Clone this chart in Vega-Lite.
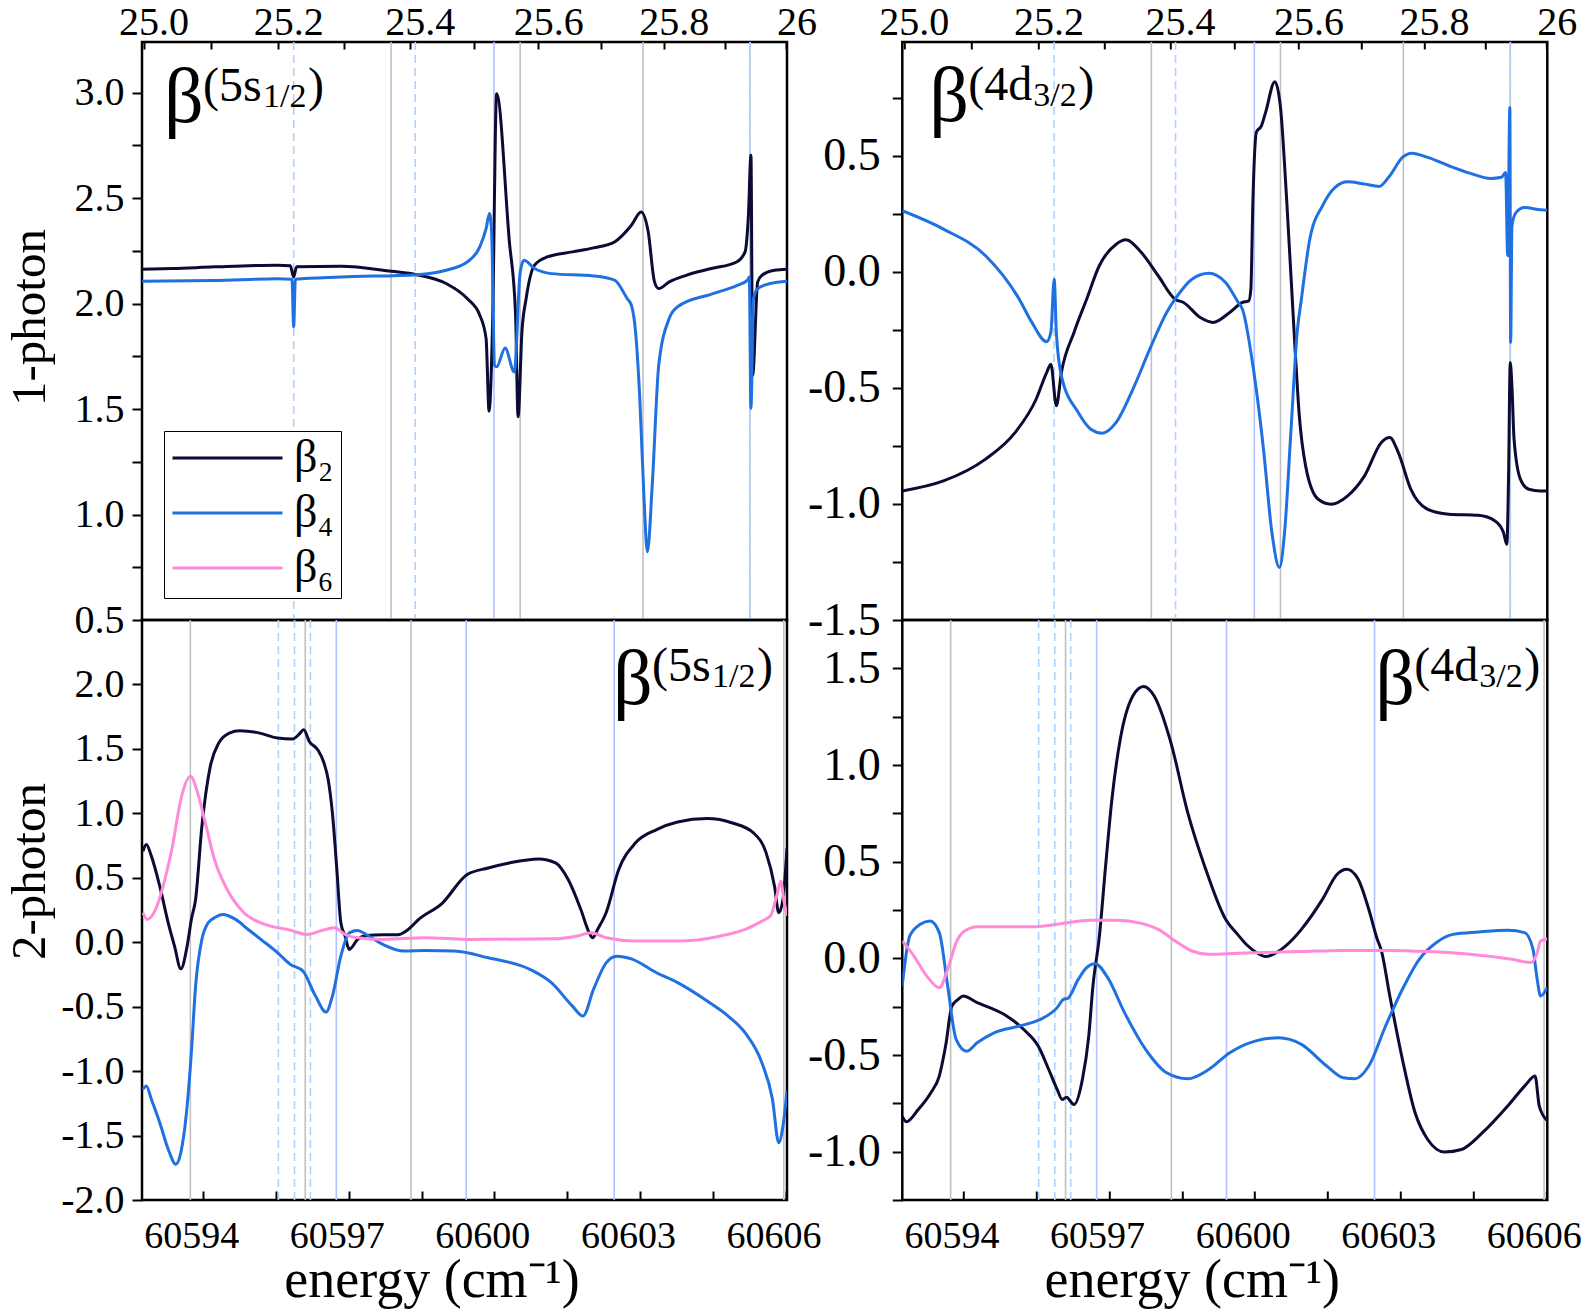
{
  "$schema": "https://vega.github.io/schema/vega-lite/v6.json",
  "background": "white",
  "padding": {"left": 3, "top": 0, "right": 5, "bottom": 0},
  "columns": 2,
  "spacing": {"row": 0, "column": 115.3},
  "bounds": "flush",
  "resolve": {"legend": {"color": "independent"}},
  "datasets": {
    "vtop": [
      {"energy": 60597.872, "kind": "gray"}, {"energy": 60600.532, "kind": "gray"}, {"energy": 60603.064, "kind": "gray"}, {"energy": 60605.265, "kind": "gray"},
      {"energy": 60599.993, "kind": "blue"},
      {"energy": 60595.867, "kind": "dashed"}, {"energy": 60598.37, "kind": "dashed"}, {"energy": 60605.27, "kind": "dashed"}
    ],
    "vbot": [
      {"energy": 60593.736, "kind": "gray"}, {"energy": 60596.104, "kind": "gray"}, {"energy": 60598.284, "kind": "gray"}, {"energy": 60605.964, "kind": "gray"},
      {"energy": 60596.744, "kind": "blue"}, {"energy": 60599.42, "kind": "blue"}, {"energy": 60602.47, "kind": "blue"},
      {"energy": 60595.55, "kind": "dashed"}, {"energy": 60595.882, "kind": "dashed"}, {"energy": 60596.21, "kind": "dashed"}
    ],
    "tl": [
      {"energy": 60592.742, "beta": 2.163, "series": "β₂"}, {"energy": 60593.367, "beta": 2.166, "series": "β₂"}, {"energy": 60594.234, "beta": 2.174, "series": "β₂"}, {"energy": 60595.536, "beta": 2.182, "series": "β₂"}, {"energy": 60595.796, "beta": 2.179, "series": "β₂"}, {"energy": 60595.865, "beta": 2.126, "series": "β₂"}, {"energy": 60595.926, "beta": 2.175, "series": "β₂"}, {"energy": 60596.837, "beta": 2.177, "series": "β₂"}, {"energy": 60597.878, "beta": 2.153, "series": "β₂"}, {"energy": 60598.399, "beta": 2.137, "series": "β₂"}, {"energy": 60599.006, "beta": 2.095, "series": "β₂"}, {"energy": 60599.44, "beta": 2.024, "series": "β₂"}, {"energy": 60599.7, "beta": 1.945, "series": "β₂"}, {"energy": 60599.83, "beta": 1.834, "series": "β₂"}, {"energy": 60599.891, "beta": 1.49, "series": "β₂"}, {"energy": 60599.96, "beta": 1.866, "series": "β₂"}, {"energy": 60600.047, "beta": 2.995, "series": "β₂"}, {"energy": 60600.307, "beta": 2.3, "series": "β₂"}, {"energy": 60600.437, "beta": 1.95, "series": "β₂"}, {"energy": 60600.489, "beta": 1.463, "series": "β₂"}, {"energy": 60600.568, "beta": 1.866, "series": "β₂"}, {"energy": 60600.655, "beta": 2.024, "series": "β₂"}, {"energy": 60600.828, "beta": 2.182, "series": "β₂"}, {"energy": 60601.088, "beta": 2.221, "series": "β₂"}, {"energy": 60601.609, "beta": 2.245, "series": "β₂"}, {"energy": 60602.043, "beta": 2.264, "series": "β₂"}, {"energy": 60602.476, "beta": 2.292, "series": "β₂"}, {"energy": 60602.824, "beta": 2.371, "series": "β₂"}, {"energy": 60603.023, "beta": 2.434, "series": "β₂"}, {"energy": 60603.17, "beta": 2.34, "series": "β₂"}, {"energy": 60603.3, "beta": 2.103, "series": "β₂"}, {"energy": 60603.387, "beta": 2.071, "series": "β₂"}, {"energy": 60603.604, "beta": 2.103, "series": "β₂"}, {"energy": 60603.951, "beta": 2.134, "series": "β₂"}, {"energy": 60604.472, "beta": 2.166, "series": "β₂"}, {"energy": 60604.992, "beta": 2.197, "series": "β₂"}, {"energy": 60605.166, "beta": 2.245, "series": "β₂"}, {"energy": 60605.235, "beta": 2.419, "series": "β₂"}, {"energy": 60605.287, "beta": 2.703, "series": "β₂"}, {"energy": 60605.322, "beta": 1.66, "series": "β₂"}, {"energy": 60605.426, "beta": 2.103, "series": "β₂"}, {"energy": 60605.513, "beta": 2.134, "series": "β₂"}, {"energy": 60605.773, "beta": 2.158, "series": "β₂"}, {"energy": 60606.03, "beta": 2.163, "series": "β₂"},
      {"energy": 60592.742, "beta": 2.106, "series": "β₄"}, {"energy": 60594.234, "beta": 2.109, "series": "β₄"}, {"energy": 60595.536, "beta": 2.118, "series": "β₄"}, {"energy": 60595.83, "beta": 2.115, "series": "β₄"}, {"energy": 60595.865, "beta": 1.89, "series": "β₄"}, {"energy": 60595.9, "beta": 2.115, "series": "β₄"}, {"energy": 60596.837, "beta": 2.126, "series": "β₄"}, {"energy": 60598.399, "beta": 2.137, "series": "β₄"}, {"energy": 60599.006, "beta": 2.158, "series": "β₄"}, {"energy": 60599.44, "beta": 2.197, "series": "β₄"}, {"energy": 60599.7, "beta": 2.269, "series": "β₄"}, {"energy": 60599.83, "beta": 2.355, "series": "β₄"}, {"energy": 60599.9, "beta": 2.427, "series": "β₄"}, {"energy": 60599.943, "beta": 2.34, "series": "β₄"}, {"energy": 60600.004, "beta": 1.708, "series": "β₄"}, {"energy": 60600.047, "beta": 1.7, "series": "β₄"}, {"energy": 60600.221, "beta": 1.79, "series": "β₄"}, {"energy": 60600.411, "beta": 1.676, "series": "β₄"}, {"energy": 60600.533, "beta": 2.15, "series": "β₄"}, {"energy": 60600.611, "beta": 2.205, "series": "β₄"}, {"energy": 60600.828, "beta": 2.166, "series": "β₄"}, {"energy": 60601.175, "beta": 2.142, "series": "β₄"}, {"energy": 60602.043, "beta": 2.131, "series": "β₄"}, {"energy": 60602.476, "beta": 2.111, "series": "β₄"}, {"energy": 60602.737, "beta": 2.024, "series": "β₄"}, {"energy": 60602.824, "beta": 1.992, "series": "β₄"}, {"energy": 60602.91, "beta": 1.866, "series": "β₄"}, {"energy": 60602.997, "beta": 1.55, "series": "β₄"}, {"energy": 60603.084, "beta": 1.076, "series": "β₄"}, {"energy": 60603.153, "beta": 0.823, "series": "β₄"}, {"energy": 60603.257, "beta": 1.155, "series": "β₄"}, {"energy": 60603.387, "beta": 1.708, "series": "β₄"}, {"energy": 60603.604, "beta": 1.93, "series": "β₄"}, {"energy": 60603.777, "beta": 1.985, "series": "β₄"}, {"energy": 60604.472, "beta": 2.045, "series": "β₄"}, {"energy": 60604.992, "beta": 2.085, "series": "β₄"}, {"energy": 60605.218, "beta": 2.111, "series": "β₄"}, {"energy": 60605.253, "beta": 2.126, "series": "β₄"}, {"energy": 60605.287, "beta": 1.503, "series": "β₄"}, {"energy": 60605.339, "beta": 2.024, "series": "β₄"}, {"energy": 60605.426, "beta": 2.071, "series": "β₄"}, {"energy": 60605.687, "beta": 2.095, "series": "β₄"}, {"energy": 60606.03, "beta": 2.106, "series": "β₄"}
    ],
    "tr": [
      {"energy": 60592.738, "beta": -0.944, "series": "β₂"}, {"energy": 60593.588, "beta": -0.901, "series": "β₂"}, {"energy": 60594.456, "beta": -0.807, "series": "β₂"}, {"energy": 60595.063, "beta": -0.693, "series": "β₂"}, {"energy": 60595.497, "beta": -0.549, "series": "β₂"}, {"energy": 60595.714, "beta": -0.434, "series": "β₂"}, {"energy": 60595.801, "beta": -0.398, "series": "β₂"}, {"energy": 60595.914, "beta": -0.577, "series": "β₂"}, {"energy": 60596.018, "beta": -0.434, "series": "β₂"}, {"energy": 60596.278, "beta": -0.261, "series": "β₂"}, {"energy": 60596.538, "beta": -0.118, "series": "β₂"}, {"energy": 60596.799, "beta": 0.026, "series": "β₂"}, {"energy": 60597.146, "beta": 0.119, "series": "β₂"}, {"energy": 60597.345, "beta": 0.138, "series": "β₂"}, {"energy": 60597.666, "beta": 0.083, "series": "β₂"}, {"energy": 60598.013, "beta": -0.017, "series": "β₂"}, {"energy": 60598.36, "beta": -0.118, "series": "β₂"}, {"energy": 60598.534, "beta": -0.132, "series": "β₂"}, {"energy": 60598.881, "beta": -0.197, "series": "β₂"}, {"energy": 60599.141, "beta": -0.218, "series": "β₂"}, {"energy": 60599.488, "beta": -0.175, "series": "β₂"}, {"energy": 60599.749, "beta": -0.132, "series": "β₂"}, {"energy": 60599.879, "beta": -0.125, "series": "β₂"}, {"energy": 60599.922, "beta": -0.075, "series": "β₂"}, {"energy": 60599.965, "beta": 0.313, "series": "β₂"}, {"energy": 60600.035, "beta": 0.601, "series": "β₂"}, {"energy": 60600.139, "beta": 0.629, "series": "β₂"}, {"energy": 60600.226, "beta": 0.687, "series": "β₂"}, {"energy": 60600.416, "beta": 0.819, "series": "β₂"}, {"energy": 60600.529, "beta": 0.716, "series": "β₂"}, {"energy": 60600.659, "beta": 0.313, "series": "β₂"}, {"energy": 60600.833, "beta": -0.333, "series": "β₂"}, {"energy": 60600.92, "beta": -0.62, "series": "β₂"}, {"energy": 60601.05, "beta": -0.836, "series": "β₂"}, {"energy": 60601.31, "beta": -0.98, "series": "β₂"}, {"energy": 60601.571, "beta": -1.001, "series": "β₂"}, {"energy": 60601.917, "beta": -0.965, "series": "β₂"}, {"energy": 60602.264, "beta": -0.879, "series": "β₂"}, {"energy": 60602.611, "beta": -0.735, "series": "β₂"}, {"energy": 60602.785, "beta": -0.714, "series": "β₂"}, {"energy": 60602.959, "beta": -0.778, "series": "β₂"}, {"energy": 60603.219, "beta": -0.937, "series": "β₂"}, {"energy": 60603.566, "beta": -1.023, "series": "β₂"}, {"energy": 60604.0, "beta": -1.044, "series": "β₂"}, {"energy": 60604.607, "beta": -1.049, "series": "β₂"}, {"energy": 60604.954, "beta": -1.073, "series": "β₂"}, {"energy": 60605.127, "beta": -1.123, "series": "β₂"}, {"energy": 60605.197, "beta": -1.174, "series": "β₂"}, {"energy": 60605.232, "beta": -0.879, "series": "β₂"}, {"energy": 60605.266, "beta": -0.391, "series": "β₂"}, {"energy": 60605.301, "beta": -0.491, "series": "β₂"}, {"energy": 60605.345, "beta": -0.721, "series": "β₂"}, {"energy": 60605.475, "beta": -0.893, "series": "β₂"}, {"energy": 60605.649, "beta": -0.937, "series": "β₂"}, {"energy": 60605.887, "beta": -0.944, "series": "β₂"}, {"energy": 60606.03, "beta": -0.944, "series": "β₂"},
      {"energy": 60592.738, "beta": 0.263, "series": "β₄"}, {"energy": 60593.588, "beta": 0.184, "series": "β₄"}, {"energy": 60594.456, "beta": 0.069, "series": "β₄"}, {"energy": 60595.15, "beta": -0.118, "series": "β₄"}, {"energy": 60595.41, "beta": -0.218, "series": "β₄"}, {"energy": 60595.714, "beta": -0.301, "series": "β₄"}, {"energy": 60595.801, "beta": -0.261, "series": "β₄"}, {"energy": 60595.87, "beta": -0.032, "series": "β₄"}, {"energy": 60595.914, "beta": -0.261, "series": "β₄"}, {"energy": 60596.018, "beta": -0.448, "series": "β₄"}, {"energy": 60596.365, "beta": -0.606, "series": "β₄"}, {"energy": 60596.625, "beta": -0.678, "series": "β₄"}, {"energy": 60596.859, "beta": -0.695, "series": "β₄"}, {"energy": 60597.146, "beta": -0.649, "series": "β₄"}, {"energy": 60597.493, "beta": -0.505, "series": "β₄"}, {"energy": 60597.84, "beta": -0.333, "series": "β₄"}, {"energy": 60598.187, "beta": -0.175, "series": "β₄"}, {"energy": 60598.36, "beta": -0.118, "series": "β₄"}, {"energy": 60598.707, "beta": -0.032, "series": "β₄"}, {"energy": 60599.054, "beta": -0.006, "series": "β₄"}, {"energy": 60599.401, "beta": -0.046, "series": "β₄"}, {"energy": 60599.662, "beta": -0.132, "series": "β₄"}, {"energy": 60599.749, "beta": -0.161, "series": "β₄"}, {"energy": 60599.965, "beta": -0.405, "series": "β₄"}, {"energy": 60600.182, "beta": -0.764, "series": "β₄"}, {"energy": 60600.356, "beta": -1.124, "series": "β₄"}, {"energy": 60600.512, "beta": -1.274, "series": "β₄"}, {"energy": 60600.616, "beta": -1.124, "series": "β₄"}, {"energy": 60600.746, "beta": -0.692, "series": "β₄"}, {"energy": 60600.876, "beta": -0.261, "series": "β₄"}, {"energy": 60600.963, "beta": -0.118, "series": "β₄"}, {"energy": 60601.137, "beta": 0.141, "series": "β₄"}, {"energy": 60601.397, "beta": 0.284, "series": "β₄"}, {"energy": 60601.658, "beta": 0.364, "series": "β₄"}, {"energy": 60601.917, "beta": 0.388, "series": "β₄"}, {"energy": 60602.264, "beta": 0.378, "series": "β₄"}, {"energy": 60602.568, "beta": 0.368, "series": "β₄"}, {"energy": 60602.785, "beta": 0.414, "series": "β₄"}, {"energy": 60603.045, "beta": 0.493, "series": "β₄"}, {"energy": 60603.236, "beta": 0.511, "series": "β₄"}, {"energy": 60603.566, "beta": 0.493, "series": "β₄"}, {"energy": 60604.0, "beta": 0.457, "series": "β₄"}, {"energy": 60604.433, "beta": 0.425, "series": "β₄"}, {"energy": 60604.867, "beta": 0.402, "series": "β₄"}, {"energy": 60605.084, "beta": 0.407, "series": "β₄"}, {"energy": 60605.171, "beta": 0.428, "series": "β₄"}, {"energy": 60605.214, "beta": 0.069, "series": "β₄"}, {"energy": 60605.258, "beta": 0.708, "series": "β₄"}, {"energy": 60605.275, "beta": -0.305, "series": "β₄"}, {"energy": 60605.301, "beta": 0.198, "series": "β₄"}, {"energy": 60605.388, "beta": 0.256, "series": "β₄"}, {"energy": 60605.562, "beta": 0.277, "series": "β₄"}, {"energy": 60605.887, "beta": 0.267, "series": "β₄"}, {"energy": 60606.03, "beta": 0.265, "series": "β₄"}
    ],
    "bl": [
      {"energy": 60592.759, "beta": 0.706, "series": "β₂"}, {"energy": 60592.829, "beta": 0.758, "series": "β₂"}, {"energy": 60592.933, "beta": 0.668, "series": "β₂"}, {"energy": 60593.106, "beta": 0.435, "series": "β₂"}, {"energy": 60593.28, "beta": 0.151, "series": "β₂"}, {"energy": 60593.41, "beta": -0.03, "series": "β₂"}, {"energy": 60593.54, "beta": -0.206, "series": "β₂"}, {"energy": 60593.67, "beta": -0.03, "series": "β₂"}, {"energy": 60593.757, "beta": 0.177, "series": "β₂"}, {"energy": 60593.844, "beta": 0.332, "series": "β₂"}, {"energy": 60593.974, "beta": 0.9, "series": "β₂"}, {"energy": 60594.147, "beta": 1.364, "series": "β₂"}, {"energy": 60594.321, "beta": 1.545, "series": "β₂"}, {"energy": 60594.538, "beta": 1.623, "series": "β₂"}, {"energy": 60594.755, "beta": 1.641, "series": "β₂"}, {"energy": 60595.102, "beta": 1.628, "series": "β₂"}, {"energy": 60595.536, "beta": 1.584, "series": "β₂"}, {"energy": 60595.839, "beta": 1.576, "series": "β₂"}, {"energy": 60595.969, "beta": 1.61, "series": "β₂"}, {"energy": 60596.073, "beta": 1.649, "series": "β₂"}, {"energy": 60596.186, "beta": 1.558, "series": "β₂"}, {"energy": 60596.36, "beta": 1.494, "series": "β₂"}, {"energy": 60596.49, "beta": 1.39, "series": "β₂"}, {"energy": 60596.576, "beta": 1.262, "series": "β₂"}, {"energy": 60596.663, "beta": 1.003, "series": "β₂"}, {"energy": 60596.75, "beta": 0.59, "series": "β₂"}, {"energy": 60596.837, "beta": 0.151, "series": "β₂"}, {"energy": 60596.924, "beta": 0.047, "series": "β₂"}, {"energy": 60597.011, "beta": -0.056, "series": "β₂"}, {"energy": 60597.184, "beta": 0.022, "series": "β₂"}, {"energy": 60597.358, "beta": 0.053, "series": "β₂"}, {"energy": 60597.705, "beta": 0.058, "series": "β₂"}, {"energy": 60598.008, "beta": 0.058, "series": "β₂"}, {"energy": 60598.225, "beta": 0.099, "series": "β₂"}, {"energy": 60598.442, "beta": 0.177, "series": "β₂"}, {"energy": 60598.919, "beta": 0.3, "series": "β₂"}, {"energy": 60599.44, "beta": 0.525, "series": "β₂"}, {"energy": 60599.874, "beta": 0.576, "series": "β₂"}, {"energy": 60600.307, "beta": 0.615, "series": "β₂"}, {"energy": 60600.915, "beta": 0.646, "series": "β₂"}, {"energy": 60601.261, "beta": 0.615, "series": "β₂"}, {"energy": 60601.521, "beta": 0.486, "series": "β₂"}, {"energy": 60601.782, "beta": 0.254, "series": "β₂"}, {"energy": 60601.956, "beta": 0.073, "series": "β₂"}, {"energy": 60602.025, "beta": 0.035, "series": "β₂"}, {"energy": 60602.129, "beta": 0.1, "series": "β₂"}, {"energy": 60602.303, "beta": 0.229, "series": "β₂"}, {"energy": 60602.563, "beta": 0.564, "series": "β₂"}, {"energy": 60602.91, "beta": 0.771, "series": "β₂"}, {"energy": 60603.344, "beta": 0.874, "series": "β₂"}, {"energy": 60603.777, "beta": 0.933, "series": "β₂"}, {"energy": 60604.384, "beta": 0.959, "series": "β₂"}, {"energy": 60604.905, "beta": 0.925, "series": "β₂"}, {"energy": 60605.339, "beta": 0.848, "series": "β₂"}, {"energy": 60605.6, "beta": 0.693, "series": "β₂"}, {"energy": 60605.773, "beta": 0.435, "series": "β₂"}, {"energy": 60605.86, "beta": 0.229, "series": "β₂"}, {"energy": 60605.947, "beta": 0.332, "series": "β₂"}, {"energy": 60606.03, "beta": 0.731, "series": "β₂"},
      {"energy": 60592.759, "beta": -1.141, "series": "β₄"}, {"energy": 60592.829, "beta": -1.115, "series": "β₄"}, {"energy": 60592.933, "beta": -1.218, "series": "β₄"}, {"energy": 60593.106, "beta": -1.4, "series": "β₄"}, {"energy": 60593.28, "beta": -1.606, "series": "β₄"}, {"energy": 60593.436, "beta": -1.722, "series": "β₄"}, {"energy": 60593.54, "beta": -1.632, "series": "β₄"}, {"energy": 60593.67, "beta": -1.27, "series": "β₄"}, {"energy": 60593.757, "beta": -0.857, "series": "β₄"}, {"energy": 60593.844, "beta": -0.34, "series": "β₄"}, {"energy": 60593.974, "beta": 0.022, "series": "β₄"}, {"energy": 60594.104, "beta": 0.151, "series": "β₄"}, {"energy": 60594.234, "beta": 0.19, "series": "β₄"}, {"energy": 60594.408, "beta": 0.215, "series": "β₄"}, {"energy": 60594.668, "beta": 0.177, "series": "β₄"}, {"energy": 60594.928, "beta": 0.099, "series": "β₄"}, {"energy": 60595.189, "beta": 0.022, "series": "β₄"}, {"energy": 60595.536, "beta": -0.082, "series": "β₄"}, {"energy": 60595.796, "beta": -0.172, "series": "β₄"}, {"energy": 60596.056, "beta": -0.224, "series": "β₄"}, {"energy": 60596.316, "beta": -0.418, "series": "β₄"}, {"energy": 60596.533, "beta": -0.542, "series": "β₄"}, {"energy": 60596.663, "beta": -0.418, "series": "β₄"}, {"energy": 60596.837, "beta": -0.108, "series": "β₄"}, {"energy": 60597.011, "beta": 0.073, "series": "β₄"}, {"energy": 60597.184, "beta": 0.09, "series": "β₄"}, {"energy": 60597.358, "beta": 0.06, "series": "β₄"}, {"energy": 60597.705, "beta": -0.017, "series": "β₄"}, {"energy": 60598.138, "beta": -0.069, "series": "β₄"}, {"energy": 60598.572, "beta": -0.064, "series": "β₄"}, {"energy": 60599.18, "beta": -0.069, "series": "β₄"}, {"energy": 60599.874, "beta": -0.121, "series": "β₄"}, {"energy": 60600.741, "beta": -0.212, "series": "β₄"}, {"energy": 60601.175, "beta": -0.314, "series": "β₄"}, {"energy": 60601.609, "beta": -0.496, "series": "β₄"}, {"energy": 60601.826, "beta": -0.573, "series": "β₄"}, {"energy": 60602.043, "beta": -0.366, "series": "β₄"}, {"energy": 60602.303, "beta": -0.16, "series": "β₄"}, {"energy": 60602.52, "beta": -0.108, "series": "β₄"}, {"energy": 60602.823, "beta": -0.129, "series": "β₄"}, {"energy": 60603.344, "beta": -0.237, "series": "β₄"}, {"energy": 60603.777, "beta": -0.314, "series": "β₄"}, {"energy": 60604.384, "beta": -0.456, "series": "β₄"}, {"energy": 60604.818, "beta": -0.573, "series": "β₄"}, {"energy": 60605.166, "beta": -0.702, "series": "β₄"}, {"energy": 60605.513, "beta": -0.935, "series": "β₄"}, {"energy": 60605.73, "beta": -1.218, "series": "β₄"}, {"energy": 60605.86, "beta": -1.555, "series": "β₄"}, {"energy": 60605.947, "beta": -1.426, "series": "β₄"}, {"energy": 60606.03, "beta": -1.155, "series": "β₄"},
      {"energy": 60592.759, "beta": 0.229, "series": "β₆"}, {"energy": 60592.846, "beta": 0.177, "series": "β₆"}, {"energy": 60593.02, "beta": 0.254, "series": "β₆"}, {"energy": 60593.193, "beta": 0.461, "series": "β₆"}, {"energy": 60593.367, "beta": 0.745, "series": "β₆"}, {"energy": 60593.54, "beta": 1.107, "series": "β₆"}, {"energy": 60593.74, "beta": 1.287, "series": "β₆"}, {"energy": 60593.887, "beta": 1.158, "series": "β₆"}, {"energy": 60594.061, "beta": 0.9, "series": "β₆"}, {"energy": 60594.234, "beta": 0.641, "series": "β₆"}, {"energy": 60594.495, "beta": 0.409, "series": "β₆"}, {"energy": 60594.841, "beta": 0.229, "series": "β₆"}, {"energy": 60595.275, "beta": 0.138, "series": "β₆"}, {"energy": 60595.796, "beta": 0.094, "series": "β₆"}, {"energy": 60596.143, "beta": 0.06, "series": "β₆"}, {"energy": 60596.403, "beta": 0.086, "series": "β₆"}, {"energy": 60596.707, "beta": 0.112, "series": "β₆"}, {"energy": 60596.924, "beta": 0.06, "series": "β₆"}, {"energy": 60597.184, "beta": 0.034, "series": "β₆"}, {"energy": 60597.705, "beta": 0.022, "series": "β₆"}, {"energy": 60598.572, "beta": 0.034, "series": "β₆"}, {"energy": 60599.44, "beta": 0.022, "series": "β₆"}, {"energy": 60601.175, "beta": 0.026, "series": "β₆"}, {"energy": 60601.695, "beta": 0.047, "series": "β₆"}, {"energy": 60601.999, "beta": 0.073, "series": "β₆"}, {"energy": 60602.303, "beta": 0.034, "series": "β₆"}, {"energy": 60602.91, "beta": 0.009, "series": "β₆"}, {"energy": 60603.777, "beta": 0.009, "series": "β₆"}, {"energy": 60604.645, "beta": 0.047, "series": "β₆"}, {"energy": 60605.166, "beta": 0.099, "series": "β₆"}, {"energy": 60605.513, "beta": 0.164, "series": "β₆"}, {"energy": 60605.687, "beta": 0.203, "series": "β₆"}, {"energy": 60605.817, "beta": 0.358, "series": "β₆"}, {"energy": 60605.903, "beta": 0.473, "series": "β₆"}, {"energy": 60605.964, "beta": 0.332, "series": "β₆"}, {"energy": 60606.03, "beta": 0.203, "series": "β₆"}
    ],
    "br": [
      {"energy": 60592.738, "beta": -0.816, "series": "β₂"}, {"energy": 60592.825, "beta": -0.845, "series": "β₂"}, {"energy": 60593.068, "beta": -0.782, "series": "β₂"}, {"energy": 60593.328, "beta": -0.695, "series": "β₂"}, {"energy": 60593.502, "beta": -0.609, "series": "β₂"}, {"energy": 60593.632, "beta": -0.454, "series": "β₂"}, {"energy": 60593.762, "beta": -0.247, "series": "β₂"}, {"energy": 60593.892, "beta": -0.212, "series": "β₂"}, {"energy": 60593.996, "beta": -0.195, "series": "β₂"}, {"energy": 60594.282, "beta": -0.229, "series": "β₂"}, {"energy": 60594.543, "beta": -0.255, "series": "β₂"}, {"energy": 60594.89, "beta": -0.298, "series": "β₂"}, {"energy": 60595.237, "beta": -0.367, "series": "β₂"}, {"energy": 60595.541, "beta": -0.454, "series": "β₂"}, {"energy": 60595.757, "beta": -0.575, "series": "β₂"}, {"energy": 60595.931, "beta": -0.678, "series": "β₂"}, {"energy": 60596.035, "beta": -0.73, "series": "β₂"}, {"energy": 60596.122, "beta": -0.718, "series": "β₂"}, {"energy": 60596.278, "beta": -0.756, "series": "β₂"}, {"energy": 60596.451, "beta": -0.626, "series": "β₂"}, {"energy": 60596.582, "beta": -0.402, "series": "β₂"}, {"energy": 60596.668, "beta": -0.143, "series": "β₂"}, {"energy": 60596.799, "beta": 0.11, "series": "β₂"}, {"energy": 60596.929, "beta": 0.478, "series": "β₂"}, {"energy": 60597.059, "beta": 0.823, "series": "β₂"}, {"energy": 60597.232, "beta": 1.134, "series": "β₂"}, {"energy": 60597.493, "beta": 1.358, "series": "β₂"}, {"energy": 60597.71, "beta": 1.406, "series": "β₂"}, {"energy": 60597.927, "beta": 1.358, "series": "β₂"}, {"energy": 60598.274, "beta": 1.116, "series": "β₂"}, {"energy": 60598.621, "beta": 0.754, "series": "β₂"}, {"energy": 60598.968, "beta": 0.478, "series": "β₂"}, {"energy": 60599.401, "beta": 0.202, "series": "β₂"}, {"energy": 60599.662, "beta": 0.12, "series": "β₂"}, {"energy": 60599.835, "beta": 0.07, "series": "β₂"}, {"energy": 60600.095, "beta": 0.021, "series": "β₂"}, {"energy": 60600.225, "beta": 0.009, "series": "β₂"}, {"energy": 60600.443, "beta": 0.029, "series": "β₂"}, {"energy": 60600.79, "beta": 0.1, "series": "β₂"}, {"energy": 60600.963, "beta": 0.15, "series": "β₂"}, {"energy": 60601.397, "beta": 0.305, "series": "β₂"}, {"energy": 60601.7, "beta": 0.435, "series": "β₂"}, {"energy": 60601.9, "beta": 0.461, "series": "β₂"}, {"energy": 60602.134, "beta": 0.409, "series": "β₂"}, {"energy": 60602.351, "beta": 0.254, "series": "β₂"}, {"energy": 60602.525, "beta": 0.1, "series": "β₂"}, {"energy": 60602.611, "beta": 0.04, "series": "β₂"}, {"energy": 60602.785, "beta": -0.195, "series": "β₂"}, {"energy": 60603.045, "beta": -0.523, "series": "β₂"}, {"energy": 60603.306, "beta": -0.799, "series": "β₂"}, {"energy": 60603.566, "beta": -0.937, "series": "β₂"}, {"energy": 60603.913, "beta": -1.002, "series": "β₂"}, {"energy": 60604.26, "beta": -0.989, "series": "β₂"}, {"energy": 60604.694, "beta": -0.902, "series": "β₂"}, {"energy": 60605.214, "beta": -0.764, "series": "β₂"}, {"energy": 60605.562, "beta": -0.661, "series": "β₂"}, {"energy": 60605.778, "beta": -0.609, "series": "β₂"}, {"energy": 60605.865, "beta": -0.764, "series": "β₂"}, {"energy": 60606.03, "beta": -0.84, "series": "β₂"},
      {"energy": 60592.738, "beta": -0.143, "series": "β₄"}, {"energy": 60592.894, "beta": 0.116, "series": "β₄"}, {"energy": 60593.111, "beta": 0.176, "series": "β₄"}, {"energy": 60593.311, "beta": 0.193, "series": "β₄"}, {"energy": 60593.502, "beta": 0.133, "series": "β₄"}, {"energy": 60593.675, "beta": -0.143, "series": "β₄"}, {"energy": 60593.849, "beta": -0.419, "series": "β₄"}, {"energy": 60594.066, "beta": -0.48, "series": "β₄"}, {"energy": 60594.282, "beta": -0.437, "series": "β₄"}, {"energy": 60594.63, "beta": -0.385, "series": "β₄"}, {"energy": 60595.15, "beta": -0.35, "series": "β₄"}, {"energy": 60595.584, "beta": -0.316, "series": "β₄"}, {"energy": 60595.931, "beta": -0.255, "series": "β₄"}, {"energy": 60596.061, "beta": -0.212, "series": "β₄"}, {"energy": 60596.148, "beta": -0.207, "series": "β₄"}, {"energy": 60596.365, "beta": -0.109, "series": "β₄"}, {"energy": 60596.538, "beta": -0.048, "series": "β₄"}, {"energy": 60596.712, "beta": -0.028, "series": "β₄"}, {"energy": 60596.972, "beta": -0.1, "series": "β₄"}, {"energy": 60597.319, "beta": -0.281, "series": "β₄"}, {"energy": 60597.753, "beta": -0.471, "series": "β₄"}, {"energy": 60598.187, "beta": -0.592, "series": "β₄"}, {"energy": 60598.621, "beta": -0.623, "series": "β₄"}, {"energy": 60599.054, "beta": -0.575, "series": "β₄"}, {"energy": 60599.488, "beta": -0.488, "series": "β₄"}, {"energy": 60600.009, "beta": -0.428, "series": "β₄"}, {"energy": 60600.486, "beta": -0.411, "series": "β₄"}, {"energy": 60600.963, "beta": -0.445, "series": "β₄"}, {"energy": 60601.484, "beta": -0.557, "series": "β₄"}, {"energy": 60601.831, "beta": -0.618, "series": "β₄"}, {"energy": 60602.065, "beta": -0.623, "series": "β₄"}, {"energy": 60602.351, "beta": -0.557, "series": "β₄"}, {"energy": 60602.698, "beta": -0.35, "series": "β₄"}, {"energy": 60603.045, "beta": -0.16, "series": "β₄"}, {"energy": 60603.392, "beta": -0.005, "series": "β₄"}, {"energy": 60603.74, "beta": 0.081, "series": "β₄"}, {"energy": 60604.087, "beta": 0.124, "series": "β₄"}, {"energy": 60604.607, "beta": 0.136, "series": "β₄"}, {"energy": 60605.214, "beta": 0.145, "series": "β₄"}, {"energy": 60605.562, "beta": 0.133, "series": "β₄"}, {"energy": 60605.735, "beta": 0.047, "series": "β₄"}, {"energy": 60605.822, "beta": -0.109, "series": "β₄"}, {"energy": 60605.891, "beta": -0.195, "series": "β₄"}, {"energy": 60606.03, "beta": -0.15, "series": "β₄"},
      {"energy": 60592.738, "beta": 0.09, "series": "β₆"}, {"energy": 60592.981, "beta": 0.012, "series": "β₆"}, {"energy": 60593.241, "beta": -0.091, "series": "β₆"}, {"energy": 60593.502, "beta": -0.152, "series": "β₆"}, {"energy": 60593.675, "beta": -0.057, "series": "β₆"}, {"energy": 60593.849, "beta": 0.081, "series": "β₆"}, {"energy": 60594.022, "beta": 0.141, "series": "β₆"}, {"energy": 60594.282, "beta": 0.164, "series": "β₆"}, {"energy": 60594.89, "beta": 0.164, "series": "β₆"}, {"energy": 60595.497, "beta": 0.164, "series": "β₆"}, {"energy": 60595.931, "beta": 0.176, "series": "β₆"}, {"energy": 60596.625, "beta": 0.197, "series": "β₆"}, {"energy": 60597.146, "beta": 0.197, "series": "β₆"}, {"energy": 60597.666, "beta": 0.181, "series": "β₆"}, {"energy": 60598.013, "beta": 0.15, "series": "β₆"}, {"energy": 60598.36, "beta": 0.09, "series": "β₆"}, {"energy": 60598.707, "beta": 0.038, "series": "β₆"}, {"energy": 60599.054, "beta": 0.021, "series": "β₆"}, {"energy": 60599.662, "beta": 0.026, "series": "β₆"}, {"energy": 60600.963, "beta": 0.035, "series": "β₆"}, {"energy": 60601.831, "beta": 0.041, "series": "β₆"}, {"energy": 60602.698, "beta": 0.041, "series": "β₆"}, {"energy": 60603.566, "beta": 0.035, "series": "β₆"}, {"energy": 60604.433, "beta": 0.021, "series": "β₆"}, {"energy": 60605.301, "beta": -0.005, "series": "β₆"}, {"energy": 60605.691, "beta": -0.022, "series": "β₆"}, {"energy": 60605.822, "beta": 0.029, "series": "β₆"}, {"energy": 60605.891, "beta": 0.09, "series": "β₆"}, {"energy": 60606.03, "beta": 0.1, "series": "β₆"}
    ]
  },
  "concat": [
    {
      "width": 645, "height": 578,
      "layer": [
        {"data": {"name": "tl"}, "mark": {"type": "line", "strokeWidth": 3, "interpolate": "monotone", "clip": true, "opacity": 0},
         "encoding": {
           "x": {"field": "energy", "type": "quantitative", "scale": {"domain": [60592.74, 60606.03], "nice": false, "zero": false},
                 "axis": {"orient": "top", "values": [60592.772, 60594.167, 60595.547, 60596.91, 60598.258, 60599.589, 60600.905, 60602.206, 60603.491, 60604.76, 60606.018], "labelExpr": "abs(sqrt(109736.6/(60768.35-datum.value))*5 - round(sqrt(109736.6/(60768.35-datum.value))*5)) < 0.02 ? (datum.value > 60606 ? '26' : format(sqrt(109736.6/(60768.35-datum.value)), '.1f')) : ''", "tickSize": -7, "labelPadding": 7, "labelOffset": 10, "labelFontSize": 40, "title": null}},
           "y": {"field": "beta", "type": "quantitative", "scale": {"domain": [0.5, 3.24], "nice": false, "zero": false},
                 "axis": {"values": [0.5, 0.75, 1, 1.25, 1.5, 1.75, 2, 2.25, 2.5, 2.75, 3], "labelExpr": "abs(datum.value*2 - round(datum.value*2)) < 0.001 ? replace(format(datum.value, '.1f'), '−', '-') : ''", "tickSize": 10, "labelPadding": 8, "labelFontSize": 40, "title": "1-photon", "titleFontSize": 49, "titleX": -113, "titleY": 275, "titleAngle": -90, "titleAlign": "center", "titleBaseline": "middle"}},
           "detail": {"field": "series", "type": "nominal"}
         }},
        {"data": {"name": "vtop"}, "transform": [{"filter": "datum.kind == 'gray'"}], "mark": {"type": "rule", "color": "#c0c0c0", "strokeWidth": 1.6}, "encoding": {"x": {"field": "energy", "type": "quantitative"}}},
        {"data": {"name": "vtop"}, "transform": [{"filter": "datum.kind == 'blue'"}], "mark": {"type": "rule", "color": "#b4c0ff", "strokeWidth": 1.6}, "encoding": {"x": {"field": "energy", "type": "quantitative"}}},
        {"data": {"name": "vtop"}, "transform": [{"filter": "datum.kind == 'dashed'"}], "mark": {"type": "rule", "color": "#b0d2ff", "strokeWidth": 1.6, "strokeDash": [8, 5]}, "encoding": {"x": {"field": "energy", "type": "quantitative"}}},
        {"data": {"name": "tl"}, "mark": {"type": "line", "strokeWidth": 3, "interpolate": "monotone", "clip": true},
         "encoding": {
           "x": {"field": "energy", "type": "quantitative"},
           "y": {"field": "beta", "type": "quantitative"},
           "color": {"field": "series", "type": "nominal", "scale": {"domain": ["β₂", "β₄", "β₆"], "range": ["#0b0b35", "#1f70e0", "#ff8ad8"]},
                     "legend": {"orient": "bottom-left", "offset": 22, "title": null, "symbolType": "stroke", "symbolSize": 12100, "symbolStrokeWidth": 3, "clipHeight": 40, "labelFont": "Liberation Serif", "labelFontSize": 46, "labelColor": "black", "rowPadding": 9, "padding": 7, "strokeColor": "black", "fillColor": "white", "labelOffset": 10}}
         }},
        {"data": {"values": [{}]}, "mark": {"type": "text", "text": "β", "font": "Liberation Serif", "fontSize": 78, "align": "left", "baseline": "alphabetic", "dx": 22, "dy": 80, "color": "black"}, "encoding": {"x": {"datum": 60592.74, "type": "quantitative"}, "y": {"datum": 3.24, "type": "quantitative"}}},
        {"data": {"values": [{}]}, "mark": {"type": "text", "text": "(5s", "font": "Liberation Serif", "fontSize": 48, "align": "left", "baseline": "alphabetic", "dx": 61, "dy": 59, "color": "black"}, "encoding": {"x": {"datum": 60592.74, "type": "quantitative"}, "y": {"datum": 3.24, "type": "quantitative"}}},
        {"data": {"values": [{}]}, "mark": {"type": "text", "text": "1/2", "font": "Liberation Serif", "fontSize": 34, "align": "left", "baseline": "alphabetic", "dx": 121, "dy": 65, "color": "black"}, "encoding": {"x": {"datum": 60592.74, "type": "quantitative"}, "y": {"datum": 3.24, "type": "quantitative"}}},
        {"data": {"values": [{}]}, "mark": {"type": "text", "text": ")", "font": "Liberation Serif", "fontSize": 48, "align": "left", "baseline": "alphabetic", "dx": 166, "dy": 59, "color": "black"}, "encoding": {"x": {"datum": 60592.74, "type": "quantitative"}, "y": {"datum": 3.24, "type": "quantitative"}}}
      ]
    },
    {
      "width": 645, "height": 578,
      "layer": [
        {"data": {"name": "tr"}, "mark": {"type": "line", "strokeWidth": 3, "interpolate": "monotone", "clip": true, "opacity": 0},
         "encoding": {
           "x": {"field": "energy", "type": "quantitative", "scale": {"domain": [60592.74, 60606.03], "nice": false, "zero": false},
                 "axis": {"orient": "top", "values": [60592.772, 60594.167, 60595.547, 60596.91, 60598.258, 60599.589, 60600.905, 60602.206, 60603.491, 60604.76, 60606.018], "labelExpr": "abs(sqrt(109736.6/(60768.35-datum.value))*5 - round(sqrt(109736.6/(60768.35-datum.value))*5)) < 0.02 ? (datum.value > 60606 ? '26' : format(sqrt(109736.6/(60768.35-datum.value)), '.1f')) : ''", "tickSize": -7, "labelPadding": 7, "labelOffset": 10, "labelFontSize": 40, "title": null}},
           "y": {"field": "beta", "type": "quantitative", "scale": {"domain": [-1.5, 0.99], "nice": false, "zero": false},
                 "axis": {"values": [-1.5, -1.25, -1, -0.75, -0.5, -0.25, 0, 0.25, 0.5, 0.75], "labelExpr": "abs(datum.value*2 - round(datum.value*2)) < 0.001 ? replace(format(datum.value, '.1f'), '−', '-') : ''", "tickSize": 10, "labelPadding": 12, "labelFontSize": 46, "title": null}},
           "detail": {"field": "series", "type": "nominal"}
         }},
        {"data": {"name": "vtop"}, "transform": [{"filter": "datum.kind == 'gray'"}], "mark": {"type": "rule", "color": "#c0c0c0", "strokeWidth": 1.6}, "encoding": {"x": {"field": "energy", "type": "quantitative"}}},
        {"data": {"name": "vtop"}, "transform": [{"filter": "datum.kind == 'blue'"}], "mark": {"type": "rule", "color": "#b4c0ff", "strokeWidth": 1.6}, "encoding": {"x": {"field": "energy", "type": "quantitative"}}},
        {"data": {"name": "vtop"}, "transform": [{"filter": "datum.kind == 'dashed'"}], "mark": {"type": "rule", "color": "#b0d2ff", "strokeWidth": 1.6, "strokeDash": [8, 5]}, "encoding": {"x": {"field": "energy", "type": "quantitative"}}},
        {"data": {"name": "tr"}, "mark": {"type": "line", "strokeWidth": 3, "interpolate": "monotone", "clip": true},
         "encoding": {
           "x": {"field": "energy", "type": "quantitative"},
           "y": {"field": "beta", "type": "quantitative"},
           "color": {"field": "series", "type": "nominal", "scale": {"domain": ["β₂", "β₄", "β₆"], "range": ["#0b0b35", "#1f70e0", "#ff8ad8"]}, "legend": null}
         }},
        {"data": {"values": [{}]}, "mark": {"type": "text", "text": "β", "font": "Liberation Serif", "fontSize": 78, "align": "left", "baseline": "alphabetic", "dx": 27, "dy": 79, "color": "black"}, "encoding": {"x": {"datum": 60592.74, "type": "quantitative"}, "y": {"datum": 0.99, "type": "quantitative"}}},
        {"data": {"values": [{}]}, "mark": {"type": "text", "text": "(4d", "font": "Liberation Serif", "fontSize": 48, "align": "left", "baseline": "alphabetic", "dx": 66, "dy": 58, "color": "black"}, "encoding": {"x": {"datum": 60592.74, "type": "quantitative"}, "y": {"datum": 0.99, "type": "quantitative"}}},
        {"data": {"values": [{}]}, "mark": {"type": "text", "text": "3/2", "font": "Liberation Serif", "fontSize": 34, "align": "left", "baseline": "alphabetic", "dx": 131, "dy": 64, "color": "black"}, "encoding": {"x": {"datum": 60592.74, "type": "quantitative"}, "y": {"datum": 0.99, "type": "quantitative"}}},
        {"data": {"values": [{}]}, "mark": {"type": "text", "text": ")", "font": "Liberation Serif", "fontSize": 48, "align": "left", "baseline": "alphabetic", "dx": 176, "dy": 58, "color": "black"}, "encoding": {"x": {"datum": 60592.74, "type": "quantitative"}, "y": {"datum": 0.99, "type": "quantitative"}}}
      ]
    },
    {
      "width": 645, "height": 580,
      "layer": [
        {"data": {"name": "bl"}, "mark": {"type": "line", "strokeWidth": 3, "interpolate": "monotone", "clip": true, "opacity": 0},
         "encoding": {
           "x": {"field": "energy", "type": "quantitative", "scale": {"domain": [60592.74, 60606.03], "nice": false, "zero": false},
                 "axis": {"orient": "bottom", "values": [60594, 60595.5, 60597, 60598.5, 60600, 60601.5, 60603, 60604.5, 60606], "labelExpr": "datum.value % 3 == 0 ? format(datum.value, 'd') : ''", "tickSize": -9, "labelPadding": 26.5, "labelOffset": -12, "title": "energy (cm⁻¹)", "titleFontSize": 54, "titleX": 289.5, "titleY": 96, "titleAngle": 0, "titleAlign": "center", "titleBaseline": "alphabetic"}},
           "y": {"field": "beta", "type": "quantitative", "scale": {"domain": [-2, 2.5], "nice": false, "zero": false},
                 "axis": {"values": [-2, -1.75, -1.5, -1.25, -1, -0.75, -0.5, -0.25, 0, 0.25, 0.5, 0.75, 1, 1.25, 1.5, 1.75, 2, 2.25], "labelExpr": "abs(datum.value*2 - round(datum.value*2)) < 0.001 ? replace(format(datum.value, '.1f'), '−', '-') : ''", "tickSize": 10, "labelPadding": 8, "labelFontSize": 40, "title": "2-photon", "titleFontSize": 49, "titleX": -113, "titleY": 251, "titleAngle": -90, "titleAlign": "center", "titleBaseline": "middle"}},
           "detail": {"field": "series", "type": "nominal"}
         }},
        {"data": {"name": "vbot"}, "transform": [{"filter": "datum.kind == 'gray'"}], "mark": {"type": "rule", "color": "#c0c0c0", "strokeWidth": 1.6}, "encoding": {"x": {"field": "energy", "type": "quantitative"}}},
        {"data": {"name": "vbot"}, "transform": [{"filter": "datum.kind == 'blue'"}], "mark": {"type": "rule", "color": "#b4c0ff", "strokeWidth": 1.6}, "encoding": {"x": {"field": "energy", "type": "quantitative"}}},
        {"data": {"name": "vbot"}, "transform": [{"filter": "datum.kind == 'dashed'"}], "mark": {"type": "rule", "color": "#b0d2ff", "strokeWidth": 1.6, "strokeDash": [8, 5]}, "encoding": {"x": {"field": "energy", "type": "quantitative"}}},
        {"data": {"name": "bl"}, "mark": {"type": "line", "strokeWidth": 3, "interpolate": "monotone", "clip": true},
         "encoding": {
           "x": {"field": "energy", "type": "quantitative"},
           "y": {"field": "beta", "type": "quantitative"},
           "color": {"field": "series", "type": "nominal", "scale": {"domain": ["β₂", "β₄", "β₆"], "range": ["#0b0b35", "#1f70e0", "#ff8ad8"]}, "legend": null}
         }},
        {"data": {"values": [{}]}, "mark": {"type": "text", "text": "β", "font": "Liberation Serif", "fontSize": 78, "align": "left", "baseline": "alphabetic", "dx": 471, "dy": 84, "color": "black"}, "encoding": {"x": {"datum": 60592.74, "type": "quantitative"}, "y": {"datum": 2.5, "type": "quantitative"}}},
        {"data": {"values": [{}]}, "mark": {"type": "text", "text": "(5s", "font": "Liberation Serif", "fontSize": 48, "align": "left", "baseline": "alphabetic", "dx": 510, "dy": 61, "color": "black"}, "encoding": {"x": {"datum": 60592.74, "type": "quantitative"}, "y": {"datum": 2.5, "type": "quantitative"}}},
        {"data": {"values": [{}]}, "mark": {"type": "text", "text": "1/2", "font": "Liberation Serif", "fontSize": 34, "align": "left", "baseline": "alphabetic", "dx": 570, "dy": 67, "color": "black"}, "encoding": {"x": {"datum": 60592.74, "type": "quantitative"}, "y": {"datum": 2.5, "type": "quantitative"}}},
        {"data": {"values": [{}]}, "mark": {"type": "text", "text": ")", "font": "Liberation Serif", "fontSize": 48, "align": "left", "baseline": "alphabetic", "dx": 615, "dy": 61, "color": "black"}, "encoding": {"x": {"datum": 60592.74, "type": "quantitative"}, "y": {"datum": 2.5, "type": "quantitative"}}}
      ]
    },
    {
      "width": 645, "height": 580,
      "layer": [
        {"data": {"name": "br"}, "mark": {"type": "line", "strokeWidth": 3, "interpolate": "monotone", "clip": true, "opacity": 0},
         "encoding": {
           "x": {"field": "energy", "type": "quantitative", "scale": {"domain": [60592.74, 60606.03], "nice": false, "zero": false},
                 "axis": {"orient": "bottom", "values": [60594, 60595.5, 60597, 60598.5, 60600, 60601.5, 60603, 60604.5, 60606], "labelExpr": "datum.value % 3 == 0 ? format(datum.value, 'd') : ''", "tickSize": -9, "labelPadding": 26.5, "labelOffset": -12, "title": "energy (cm⁻¹)", "titleFontSize": 54, "titleX": 289.5, "titleY": 96, "titleAngle": 0, "titleAlign": "center", "titleBaseline": "alphabetic"}},
           "y": {"field": "beta", "type": "quantitative", "scale": {"domain": [-1.25, 1.75], "nice": false, "zero": false},
                 "axis": {"values": [-1.25, -1, -0.75, -0.5, -0.25, 0, 0.25, 0.5, 0.75, 1, 1.25, 1.5], "labelExpr": "abs(datum.value*2 - round(datum.value*2)) < 0.001 ? replace(format(datum.value, '.1f'), '−', '-') : ''", "tickSize": 10, "labelPadding": 12, "labelFontSize": 46, "title": null}},
           "detail": {"field": "series", "type": "nominal"}
         }},
        {"data": {"name": "vbot"}, "transform": [{"filter": "datum.kind == 'gray'"}], "mark": {"type": "rule", "color": "#c0c0c0", "strokeWidth": 1.6}, "encoding": {"x": {"field": "energy", "type": "quantitative"}}},
        {"data": {"name": "vbot"}, "transform": [{"filter": "datum.kind == 'blue'"}], "mark": {"type": "rule", "color": "#b4c0ff", "strokeWidth": 1.6}, "encoding": {"x": {"field": "energy", "type": "quantitative"}}},
        {"data": {"name": "vbot"}, "transform": [{"filter": "datum.kind == 'dashed'"}], "mark": {"type": "rule", "color": "#b0d2ff", "strokeWidth": 1.6, "strokeDash": [8, 5]}, "encoding": {"x": {"field": "energy", "type": "quantitative"}}},
        {"data": {"name": "br"}, "mark": {"type": "line", "strokeWidth": 3, "interpolate": "monotone", "clip": true},
         "encoding": {
           "x": {"field": "energy", "type": "quantitative"},
           "y": {"field": "beta", "type": "quantitative"},
           "color": {"field": "series", "type": "nominal", "scale": {"domain": ["β₂", "β₄", "β₆"], "range": ["#0b0b35", "#1f70e0", "#ff8ad8"]}, "legend": null}
         }},
        {"data": {"values": [{}]}, "mark": {"type": "text", "text": "β", "font": "Liberation Serif", "fontSize": 78, "align": "left", "baseline": "alphabetic", "dx": 473, "dy": 84, "color": "black"}, "encoding": {"x": {"datum": 60592.74, "type": "quantitative"}, "y": {"datum": 1.75, "type": "quantitative"}}},
        {"data": {"values": [{}]}, "mark": {"type": "text", "text": "(4d", "font": "Liberation Serif", "fontSize": 48, "align": "left", "baseline": "alphabetic", "dx": 512, "dy": 61, "color": "black"}, "encoding": {"x": {"datum": 60592.74, "type": "quantitative"}, "y": {"datum": 1.75, "type": "quantitative"}}},
        {"data": {"values": [{}]}, "mark": {"type": "text", "text": "3/2", "font": "Liberation Serif", "fontSize": 34, "align": "left", "baseline": "alphabetic", "dx": 577, "dy": 67, "color": "black"}, "encoding": {"x": {"datum": 60592.74, "type": "quantitative"}, "y": {"datum": 1.75, "type": "quantitative"}}},
        {"data": {"values": [{}]}, "mark": {"type": "text", "text": ")", "font": "Liberation Serif", "fontSize": 48, "align": "left", "baseline": "alphabetic", "dx": 622, "dy": 61, "color": "black"}, "encoding": {"x": {"datum": 60592.74, "type": "quantitative"}, "y": {"datum": 1.75, "type": "quantitative"}}}
      ]
    }
  ],
  "config": {
    "font": "Liberation Serif",
    "view": {"stroke": "black", "strokeWidth": 2.5},
    "axis": {"grid": false, "domain": false, "tickColor": "black", "tickWidth": 2, "labelFont": "Liberation Serif", "labelFontSize": 38, "labelColor": "black", "titleFont": "Liberation Serif", "titleFontWeight": "normal", "titleColor": "black", "titleFontSize": 48, "labelOverlap": false, "labelFlush": false, "labelBound": false}
  }
}
